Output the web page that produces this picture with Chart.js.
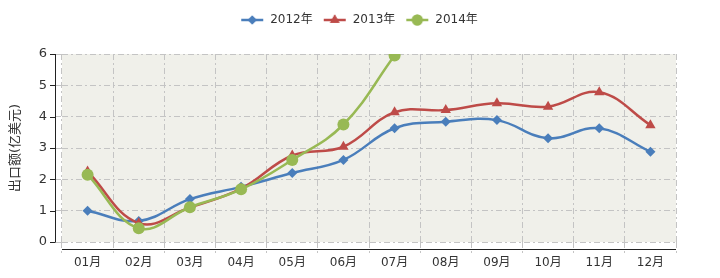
<!DOCTYPE html>
<html>
<head>
<meta charset="utf-8">
<script src="https://cdn.jsdelivr.net/npm/chart.js@4/dist/chart.umd.min.js"></script>
<style>
    html, body { margin: 0; padding: 0; background: #fff; }
    #wrap { width: 720px; height: 278px; }
</style>
</head>
<body>
<div id="wrap"><canvas id="chart" width="720" height="278"></canvas></div>
<script>
const months = ['01月', '02月', '03月', '04月', '05月', '06月', '07月', '08月', '09月', '10月', '11月', '12月'];
const yTicks = [0, 1, 2, 3, 4, 5, 6];
const seriesNames = ['2012年', '2013年', '2014年'];
const exports2012 = [1.0, 0.67, 1.37, 1.76, 2.2, 2.62, 3.63, 3.84, 3.89, 3.31, 3.63, 2.88];
const exports2013 = [2.25, 0.6, 1.1, 1.7, 2.76, 3.04, 4.14, 4.21, 4.43, 4.32, 4.78, 3.73];
const exports2014 = [2.15, 0.44, 1.11, 1.68, 2.62, 3.75, 5.95, null, null, null, null, null];

const colors = ['#4a7ebb', '#be4b48', '#98b954'];
const markers = ['rectRot', 'triangle', 'circle'];
const markerSizes = [5, 6, 6];
const FONT = '"DejaVu Sans", "Noto Sans CJK SC", sans-serif';

// legend swatch: short line with the marker on top
function legendSwatch(color, style, r) {
    const c = document.createElement('canvas');
    c.width = 24; c.height = 14;
    const ctx = c.getContext('2d');
    ctx.strokeStyle = color;
    ctx.lineWidth = 2.5;
    ctx.beginPath();
    ctx.moveTo(1, 7);
    ctx.lineTo(23, 7);
    ctx.stroke();
    ctx.fillStyle = color;
    Chart.helpers.drawPoint(ctx, {pointStyle: style, radius: r - 0.5, borderWidth: 0}, 12, 7);
    ctx.fill();
    return c;
}

// extra room under the legend, and nudge it right like the original
const legendGap = {
    id: 'legendGap',
    afterInit(chart) {
        const legend = chart.legend;
        const fit = legend.fit;
        const draw = legend.draw;
        legend.fit = function() {
            fit.call(this);
            this.height += 18;
        };
        legend.draw = function() {
            const ctx = this.ctx;
            ctx.save();
            ctx.translate(21, 0);
            draw.call(this);
            ctx.restore();
        };
    }
};

// plot background plus the offset axis lines
const frame = {
    id: 'frame',
    beforeDraw(chart) {
        const {ctx, chartArea: a} = chart;
        ctx.save();
        ctx.fillStyle = '#f0f0ea';
        ctx.fillRect(a.left, a.top, a.right - a.left, a.bottom - a.top);
        ctx.restore();
    },
    afterDraw(chart) {
        const {ctx, chartArea: a} = chart;
        const y = chart.scales.y;
        ctx.save();
        ctx.strokeStyle = '#222';
        ctx.lineWidth = 1;
        ctx.beginPath();
        ctx.moveTo(a.left - 6.5, a.top);
        ctx.lineTo(a.left - 6.5, a.bottom);
        yTicks.forEach(v => {
            const py = Math.round(y.getPixelForValue(v)) + 0.5;
            ctx.moveTo(a.left - 12, py);
            ctx.lineTo(a.left - 6.5, py);
        });
        ctx.moveTo(a.left, a.bottom + 7.5);
        ctx.lineTo(a.right, a.bottom + 7.5);
        ctx.stroke();
        ctx.restore();
    }
};

const datasets = [exports2012, exports2013, exports2014].map((data, i) => ({
    label: seriesNames[i],
    data: data,
    borderColor: colors[i],
    backgroundColor: colors[i],
    borderWidth: 2.5,
    pointStyle: markers[i],
    pointRadius: markerSizes[i],
    pointBorderWidth: 0,
    pointHoverRadius: markerSizes[i],
    tension: 0.4,
    spanGaps: false,
    order: 3 - i
}));

new Chart(document.getElementById('chart'), {
    type: 'line',
    data: { labels: months, datasets: datasets },
    options: {
        responsive: false,
        animation: false,
        layout: { padding: { top: 4, right: 44, left: 0, bottom: 0 } },
        plugins: {
            tooltip: { enabled: false },
            legend: {
                position: 'top',
                labels: {
                    usePointStyle: true,
                    pointStyleWidth: 24,
                    padding: 10,
                    color: '#333',
                    font: { family: FONT, size: 12 },
                    generateLabels: chart => chart.data.datasets.map((ds, i) => ({
                        text: ds.label,
                        pointStyle: legendSwatch(colors[i], markers[i], markerSizes[i]),
                        fillStyle: colors[i],
                        strokeStyle: colors[i],
                        lineWidth: 0,
                        fontColor: '#333',
                        datasetIndex: i
                    }))
                }
            }
        },
        scales: {
            x: {
                offset: true,
                grid: {
                    offset: true,
                    color: '#c4c4c4',
                    tickColor: '#c4c4c4',
                    tickLength: 14,
                    tickBorderDash: [6, 3, 2, 3],
                    lineWidth: 1
                },
                border: { display: false, dash: [6, 3, 2, 3] },
                ticks: {
                    color: '#333',
                    padding: 0,
                    maxRotation: 0,
                    font: { family: FONT, size: 12 }
                },
                afterFit: s => { s.height = 36; }
            },
            y: {
                min: 0,
                max: 6,
                afterBuildTicks: s => { s.ticks = yTicks.map(v => ({ value: v })); },
                grid: {
                    color: '#c4c4c4',
                    tickColor: '#c4c4c4',
                    tickLength: 7,
                    tickBorderDash: [6, 3, 2, 3],
                    lineWidth: 1
                },
                border: { display: false, dash: [6, 3, 2, 3] },
                ticks: {
                    color: '#333',
                    padding: 8,
                    font: { family: FONT, size: 13 }
                },
                title: {
                    display: true,
                    text: '出口额(亿美元)',
                    color: '#333',
                    padding: { top: 8, bottom: 0 },
                    font: { family: FONT, size: 13 }
                },
                afterFit: s => { s.width = 62; }
            }
        }
    },
    plugins: [legendGap, frame]
});
</script>
</body>
</html>
